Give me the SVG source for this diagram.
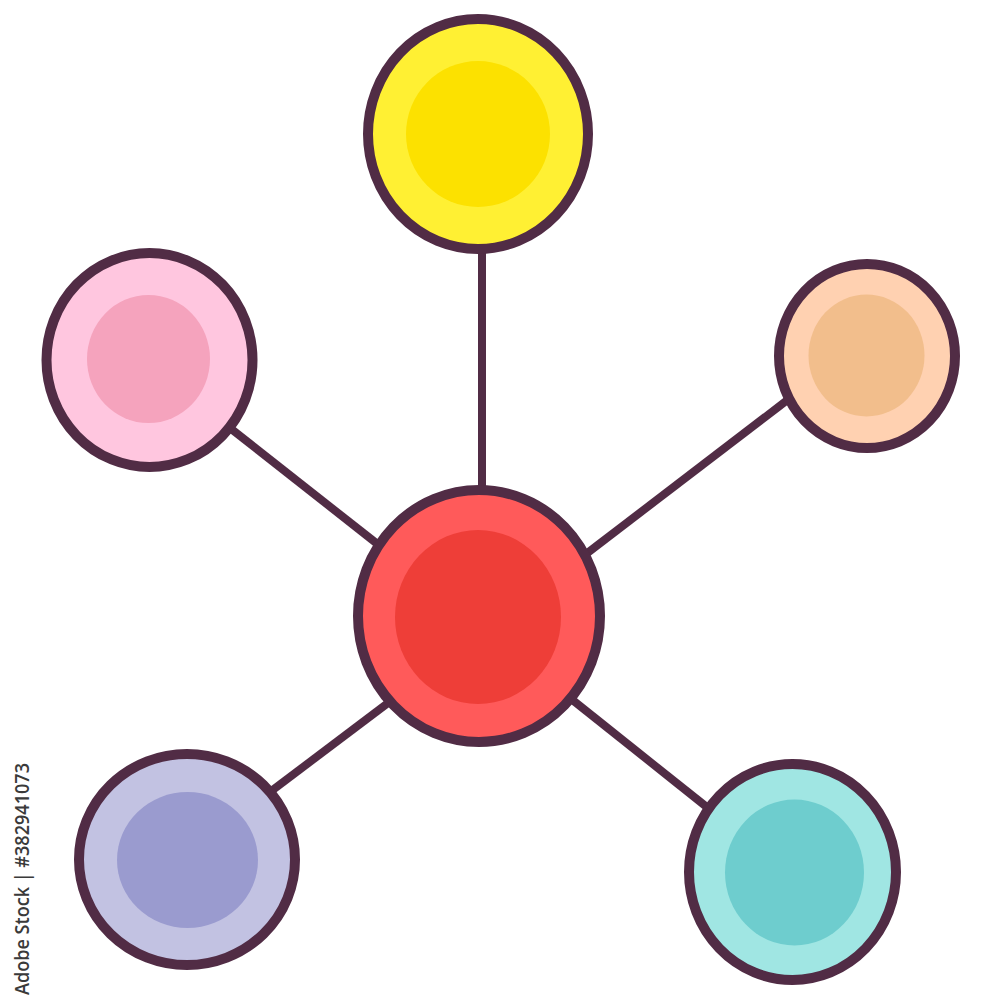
<svg xmlns="http://www.w3.org/2000/svg" width="1000" height="1000" viewBox="0 0 1000 1000">
<style>
.ring{stroke:#512c45;stroke-width:10}
.link{stroke:#512c45;stroke-width:8;fill:none}
.wm{font-family:"Open Sans","Liberation Sans",sans-serif;font-size:19px;font-weight:600;fill:#3a3a3a}
</style>
<rect width="1000" height="1000" fill="#ffffff"/>
<g id="connectors">
<line class="link" x1="482" y1="250" x2="482" y2="492"/>
<line class="link" x1="230" y1="428" x2="380" y2="546"/>
<line class="link" x1="790" y1="398" x2="586" y2="554"/>
<line class="link" x1="270" y1="792" x2="388" y2="703"/>
<line class="link" x1="708" y1="808" x2="570" y2="698"/>
</g>
<g id="node-top">
<ellipse class="ring" cx="478" cy="134" rx="110" ry="115" fill="#fff033"/>
<ellipse cx="478" cy="134" rx="72" ry="73" fill="#fce100"/>
</g>
<g id="node-pink">
<ellipse class="ring" cx="149.5" cy="360" rx="103" ry="107" fill="#ffc6df"/>
<ellipse cx="148.5" cy="359" rx="61.5" ry="64" fill="#f5a3bd"/>
</g>
<g id="node-peach">
<ellipse class="ring" cx="867" cy="356" rx="88" ry="92" fill="#ffd1b1"/>
<ellipse cx="866.5" cy="355.5" rx="58" ry="61" fill="#f2be8c"/>
</g>
<g id="node-purple">
<ellipse class="ring" cx="187" cy="859.5" rx="108" ry="105.5" fill="#c2c2e2"/>
<ellipse cx="187.5" cy="860" rx="70.5" ry="68" fill="#9a9bcf"/>
</g>
<g id="node-teal">
<ellipse class="ring" cx="792.5" cy="872" rx="103.5" ry="108" fill="#a0e6e3"/>
<ellipse cx="794.5" cy="872.5" rx="69.5" ry="73" fill="#6ecdce"/>
</g>
<g id="node-center">
<ellipse class="ring" cx="479" cy="616" rx="121" ry="126" fill="#ff5a5a"/>
<ellipse cx="478" cy="617" rx="83" ry="87" fill="#ee3e38"/>
</g>
<text class="wm" transform="translate(29,995) rotate(-90)" textLength="232" lengthAdjust="spacingAndGlyphs">Adobe Stock | #382941073</text>
</svg>
